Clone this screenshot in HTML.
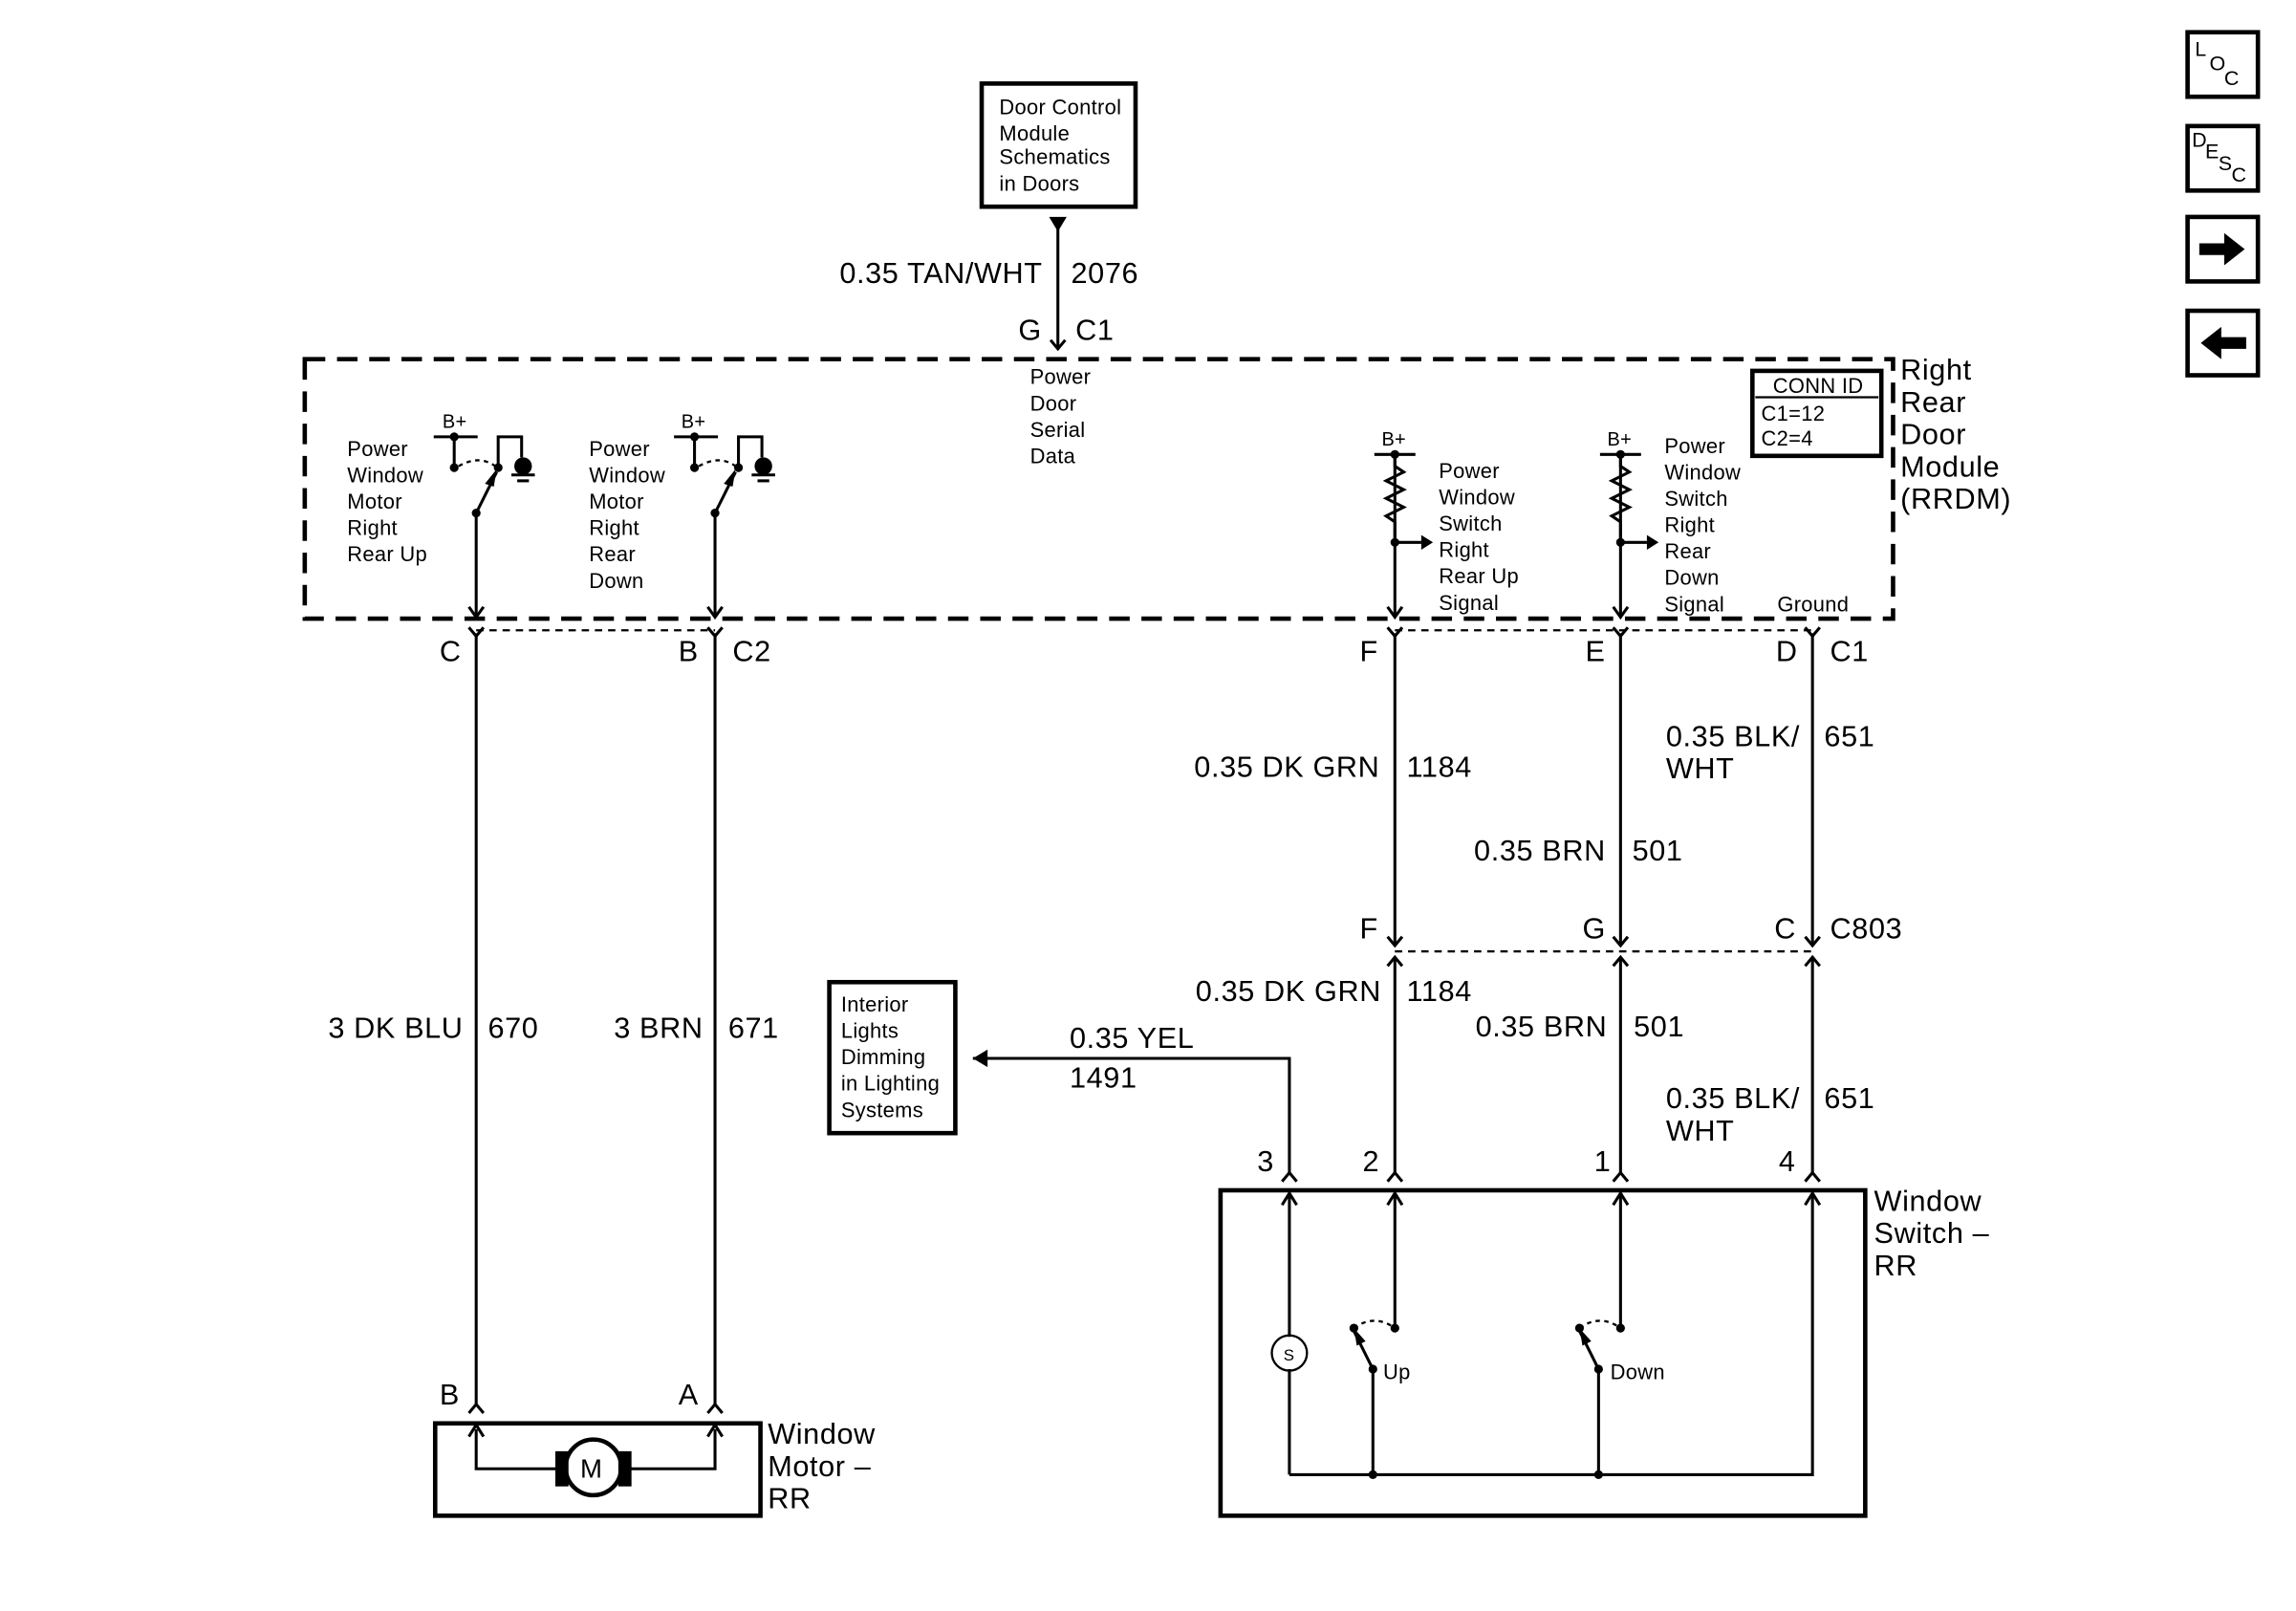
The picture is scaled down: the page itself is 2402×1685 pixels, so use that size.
<!DOCTYPE html>
<html><head><style>html,body{margin:0;padding:0;background:#fff}svg{display:block}</style></head><body>
<svg width="2402" height="1685" viewBox="0 0 1567 1099" preserveAspectRatio="none" xmlns="http://www.w3.org/2000/svg" font-family="Liberation Sans, Arial, sans-serif">
<g fill="none" stroke="#000" stroke-width="2">
<rect x="670" y="57" width="105" height="84" stroke-width="3"/>
<line x1="722" y1="150" x2="722" y2="238"/>
<rect x="208" y="245" width="1084" height="177" stroke-width="3" stroke-dasharray="14,8"/>
<rect x="1196" y="253" width="88" height="58" stroke-width="3"/>
<line x1="1198" y1="271" x2="1282" y2="271" stroke-width="1.5"/>
<line x1="325" y1="430" x2="488" y2="430" stroke-width="1.5" stroke-dasharray="5,4"/>
<line x1="952" y1="430" x2="1237" y2="430" stroke-width="1.5" stroke-dasharray="5,4"/>
<line x1="952" y1="649" x2="1237" y2="649" stroke-width="1.5" stroke-dasharray="5,4"/>
<line x1="325" y1="352" x2="325" y2="420"/>
<line x1="488" y1="352" x2="488" y2="420"/>
<line x1="325" y1="432" x2="325" y2="958"/>
<line x1="488" y1="432" x2="488" y2="958"/>
<line x1="952" y1="312" x2="952" y2="420"/>
<line x1="1106" y1="312" x2="1106" y2="420"/>
<line x1="1237" y1="432" x2="1237" y2="645"/>
<line x1="952" y1="432" x2="952" y2="645"/>
<line x1="1106" y1="432" x2="1106" y2="645"/>
<line x1="952" y1="653" x2="952" y2="800"/>
<line x1="1106" y1="653" x2="1106" y2="800"/>
<line x1="1237" y1="653" x2="1237" y2="800"/>
<polyline points="880,800 880,722 664,722"/>
<polyline points="320,414 325,421 330,414"/>
<polyline points="483,414 488,421 493,414"/>
<polyline points="947,414 952,421 957,414"/>
<polyline points="1101,414 1106,421 1111,414"/>
<polyline points="320,428 325,434 330,428"/>
<polyline points="483,428 488,434 493,428"/>
<polyline points="947,428 952,434 957,428"/>
<polyline points="1101,428 1106,434 1111,428"/>
<polyline points="1232,428 1237,434 1242,428"/>
<polyline points="717,232 722,238 727,232"/>
<polyline points="947,639 952,645 957,639"/>
<polyline points="1101,639 1106,645 1111,639"/>
<polyline points="1232,639 1237,645 1242,639"/>
<polyline points="947,659 952,653 957,659"/>
<polyline points="1101,659 1106,653 1111,659"/>
<polyline points="1232,659 1237,653 1242,659"/>
<polyline points="875,806 880,800 885,806"/>
<polyline points="947,806 952,800 957,806"/>
<polyline points="1101,806 1106,800 1111,806"/>
<polyline points="1232,806 1237,800 1242,806"/>
<polyline points="320,964 325,958 330,964"/>
<polyline points="483,964 488,958 493,964"/>
<rect x="297" y="971" width="222" height="63" stroke-width="3"/>
<polyline points="325,975 325,1002 380,1002"/>
<polyline points="488,975 488,1002 430,1002"/>
<polyline points="320,980 325,972 330,980"/>
<polyline points="483,980 488,972 493,980"/>
<circle cx="405" cy="1001" r="19" stroke-width="3" fill="#fff"/>
<rect x="566" y="670" width="86" height="103" stroke-width="3"/>
<rect x="833" y="812" width="440" height="222" stroke-width="3"/>
<line x1="880" y1="816" x2="880" y2="912"/>
<line x1="880" y1="934" x2="880" y2="1006"/>
<line x1="952" y1="816" x2="952" y2="906"/>
<line x1="1106" y1="816" x2="1106" y2="906"/>
<polyline points="1237,816 1237,1006 880,1006"/>
<polyline points="875,822 880,814 885,822"/>
<polyline points="947,822 952,814 957,822"/>
<polyline points="1101,822 1106,814 1111,822"/>
<polyline points="1232,822 1237,814 1242,822"/>
<circle cx="880" cy="923" r="12" stroke-width="1.5"/>
<line x1="937" y1="934" x2="937" y2="1006"/>
<line x1="1091" y1="934" x2="1091" y2="1006"/>
<line x1="937" y1="934" x2="924" y2="908"/>
<line x1="1091" y1="934" x2="1078" y2="908"/>
<path d="M924,906 Q938,896 952,906" stroke-width="1.5" stroke-dasharray="3,3"/>
<path d="M1078,906 Q1092,896 1106,906" stroke-width="1.5" stroke-dasharray="3,3"/>
<line x1="296" y1="298" x2="326" y2="298"/>
<line x1="310" y1="298" x2="310" y2="319"/>
<polyline points="340,319 340,298 356,298 356,312"/>
<line x1="325" y1="350" x2="339" y2="322"/>
<path d="M313,318 Q327,310 338,318" stroke-width="1.5" stroke-dasharray="3,3"/>
<line x1="349" y1="324" x2="365" y2="324"/><line x1="353" y1="328" x2="361" y2="328"/>
<line x1="460" y1="298" x2="490" y2="298"/>
<line x1="474" y1="298" x2="474" y2="319"/>
<polyline points="504,319 504,298 520,298 520,312"/>
<line x1="488" y1="350" x2="502" y2="322"/>
<path d="M477,318 Q491,310 502,318" stroke-width="1.5" stroke-dasharray="3,3"/>
<line x1="513" y1="324" x2="529" y2="324"/><line x1="517" y1="328" x2="525" y2="328"/>
<line x1="938" y1="310" x2="966" y2="310"/>
<polyline points="952,310 952,318 958,322 946,328 958,334 946,340 958,346 946,352 952,356 952,370"/>
<line x1="952" y1="370" x2="970" y2="370"/>
<line x1="1092" y1="310" x2="1120" y2="310"/>
<polyline points="1106,310 1106,318 1112,322 1100,328 1112,334 1100,340 1112,346 1100,352 1106,356 1106,370"/>
<line x1="1106" y1="370" x2="1124" y2="370"/>
<rect x="1493" y="22" width="48" height="44" stroke-width="3"/>
<rect x="1493" y="86" width="48" height="44" stroke-width="3"/>
<rect x="1493" y="148" width="48" height="44" stroke-width="3"/>
<rect x="1493" y="212" width="48" height="44" stroke-width="3"/>
</g>
<g fill="#000">
<polygon points="716,148 728,148 722,158"/>
<polygon points="664,722 674,716 674,728"/>
<polygon points="970,365 978,370 970,375"/>
<polygon points="1124,365 1132,370 1124,375"/>
<polygon points="339,320 331,330 337,332"/>
<polygon points="502,320 494,330 500,332"/>
<polygon points="924,906 926,918 932,915"/>
<polygon points="1078,906 1080,918 1086,915"/>
<circle cx="310" cy="298" r="3"/><circle cx="310" cy="319" r="3"/><circle cx="340" cy="319" r="3"/><circle cx="325" cy="350" r="3"/>
<circle cx="357" cy="318" r="6"/>
<circle cx="474" cy="298" r="3"/><circle cx="474" cy="319" r="3"/><circle cx="504" cy="319" r="3"/><circle cx="488" cy="350" r="3"/>
<circle cx="521" cy="318" r="6"/>
<circle cx="952" cy="310" r="3"/><circle cx="952" cy="370" r="3"/>
<circle cx="1106" cy="310" r="3"/><circle cx="1106" cy="370" r="3"/>
<circle cx="924" cy="906" r="3"/><circle cx="952" cy="906" r="3"/><circle cx="937" cy="934" r="3"/><circle cx="937" cy="1006" r="3"/>
<circle cx="1078" cy="906" r="3"/><circle cx="1106" cy="906" r="3"/><circle cx="1091" cy="934" r="3"/><circle cx="1091" cy="1006" r="3"/>
<rect x="379" y="990" width="9" height="24"/><rect x="422" y="990" width="9" height="24"/>
<polygon points="1501,166 1518,166 1518,159 1532,170 1518,181 1518,174 1501,174"/>
<polygon points="1533,230 1516,230 1516,223 1502,234 1516,245 1516,238 1533,238"/>
</g>
<g font-size="14.3" letter-spacing="0.2">
<text x="682" y="78">Door Control</text><text x="682" y="96">Module</text><text x="682" y="112">Schematics</text><text x="682" y="130">in Doors</text>
<text x="703" y="262">Power</text><text x="703" y="280">Door</text><text x="703" y="298">Serial</text><text x="703" y="316">Data</text>
<text x="237" y="311">Power</text><text x="237" y="329">Window</text><text x="237" y="347">Motor</text><text x="237" y="365">Right</text><text x="237" y="383">Rear Up</text>
<text x="402" y="311">Power</text><text x="402" y="329">Window</text><text x="402" y="347">Motor</text><text x="402" y="365">Right</text><text x="402" y="383">Rear</text><text x="402" y="401">Down</text>
<text x="302" y="292" font-size="13">B+</text><text x="465" y="292" font-size="13">B+</text>
<text x="943" y="304" font-size="13">B+</text><text x="1097" y="304" font-size="13">B+</text>
<text x="982" y="326">Power</text><text x="982" y="344">Window</text><text x="982" y="362">Switch</text><text x="982" y="380">Right</text><text x="982" y="398">Rear Up</text><text x="982" y="416">Signal</text>
<text x="1136" y="309">Power</text><text x="1136" y="327">Window</text><text x="1136" y="345">Switch</text><text x="1136" y="363">Right</text><text x="1136" y="381">Rear</text><text x="1136" y="399">Down</text><text x="1136" y="417">Signal</text>
<text x="1213" y="417">Ground</text>
<text x="1210" y="268">CONN ID</text><text x="1202" y="287">C1=12</text><text x="1202" y="304">C2=4</text>
<text x="574" y="690">Interior</text><text x="574" y="708">Lights</text><text x="574" y="726">Dimming</text><text x="574" y="744">in Lighting</text><text x="574" y="762">Systems</text>
<text x="944" y="941">Up</text><text x="1099" y="941">Down</text>
<text x="876" y="928" font-size="11">S</text>
</g>
<g font-size="20" letter-spacing="0.4">
<text x="573" y="193">0.35 TAN/WHT</text><text x="731" y="193">2076</text>
<text x="695" y="232">G</text><text x="734" y="232">C1</text>
<text x="1297" y="259">Right</text><text x="1297" y="281">Rear</text><text x="1297" y="303">Door</text><text x="1297" y="325">Module</text><text x="1297" y="347">(RRDM)</text>
<text x="300" y="451">C</text><text x="463" y="451">B</text><text x="500" y="451">C2</text>
<text x="928" y="451">F</text><text x="1082" y="451">E</text><text x="1212" y="451">D</text><text x="1249" y="451">C1</text>
<text x="815" y="530">0.35 DK GRN</text><text x="960" y="530">1184</text>
<text x="1137" y="509">0.35 BLK/</text><text x="1137" y="531">WHT</text><text x="1245" y="509">651</text>
<text x="1006" y="587">0.35 BRN</text><text x="1114" y="587">501</text>
<text x="928" y="640">F</text><text x="1080" y="640">G</text><text x="1211" y="640">C</text><text x="1249" y="640">C803</text>
<text x="816" y="683">0.35 DK GRN</text><text x="960" y="683">1184</text>
<text x="1007" y="707">0.35 BRN</text><text x="1115" y="707">501</text>
<text x="1137" y="756">0.35 BLK/</text><text x="1137" y="778">WHT</text><text x="1245" y="756">651</text>
<text x="224" y="708">3 DK BLU</text><text x="333" y="708">670</text>
<text x="419" y="708">3 BRN</text><text x="497" y="708">671</text>
<text x="730" y="715">0.35 YEL</text><text x="730" y="742">1491</text>
<text x="858" y="799">3</text><text x="930" y="799">2</text><text x="1088" y="799">1</text><text x="1214" y="799">4</text>
<text x="1279" y="826">Window</text><text x="1279" y="848">Switch –</text><text x="1279" y="870">RR</text>
<text x="300" y="958">B</text><text x="463" y="958">A</text>
<text x="524" y="985">Window</text><text x="524" y="1007">Motor –</text><text x="524" y="1029">RR</text>
<text x="396" y="1008" font-size="18" letter-spacing="0">M</text>
</g>
<g font-size="14">
<text x="1498" y="38">L</text><text x="1508" y="48">O</text><text x="1518" y="58">C</text>
<text x="1496" y="100">D</text><text x="1505" y="108">E</text><text x="1514" y="116">S</text><text x="1523" y="124">C</text>
</g>
</svg>
</body></html>
